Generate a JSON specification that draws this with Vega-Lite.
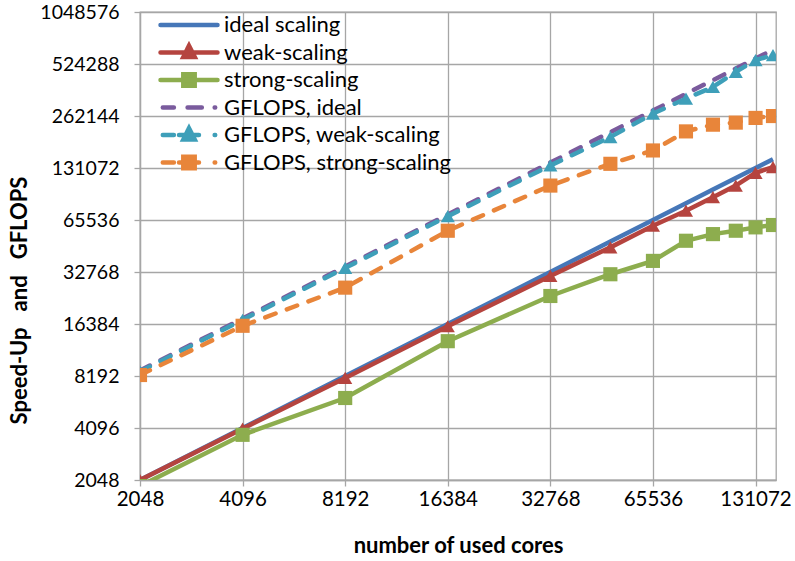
{
  "$schema": "https://vega.github.io/schema/vega-lite/v6.json",
  "width": 636,
  "height": 468,
  "autosize": {"type": "none"},
  "padding": {"left": 140, "top": 12, "right": 19, "bottom": 81},
  "background": "white",
  "config": {
    "view": {"stroke": "#a6a6a6", "strokeWidth": 1.3},
    "font": "Lato",
    "axis": {
      "labelFont": "Lato", "labelFontSize": 20.5, "labelColor": "#000000",
      "titleFont": "Lato", "titleFontSize": 22, "titleFontWeight": "bold", "titleColor": "#000000",
      "gridColor": "#a6a6a6", "gridWidth": 1.3, "gridOpacity": 1,
      "domainColor": "#a6a6a6", "domainWidth": 1.3,
      "tickColor": "#a6a6a6", "tickWidth": 1.3, "tickSize": 6
    }
  },
  "data": {"values": [
    {"cores": 2048, "value": 2048, "series": "ideal scaling"},
    {"cores": 4096, "value": 4096, "series": "ideal scaling"},
    {"cores": 8192, "value": 8192, "series": "ideal scaling"},
    {"cores": 16384, "value": 16384, "series": "ideal scaling"},
    {"cores": 32768, "value": 32768, "series": "ideal scaling"},
    {"cores": 49152, "value": 49152, "series": "ideal scaling"},
    {"cores": 65536, "value": 65536, "series": "ideal scaling"},
    {"cores": 81920, "value": 81920, "series": "ideal scaling"},
    {"cores": 98304, "value": 98304, "series": "ideal scaling"},
    {"cores": 114688, "value": 114688, "series": "ideal scaling"},
    {"cores": 131072, "value": 131072, "series": "ideal scaling"},
    {"cores": 147456, "value": 147456, "series": "ideal scaling"},

    {"cores": 2048, "value": 2048, "series": "weak-scaling"},
    {"cores": 4096, "value": 4060, "series": "weak-scaling"},
    {"cores": 8192, "value": 7980, "series": "weak-scaling"},
    {"cores": 16384, "value": 15900, "series": "weak-scaling"},
    {"cores": 32768, "value": 31100, "series": "weak-scaling"},
    {"cores": 49152, "value": 45500, "series": "weak-scaling"},
    {"cores": 65536, "value": 60700, "series": "weak-scaling"},
    {"cores": 81920, "value": 74200, "series": "weak-scaling"},
    {"cores": 98304, "value": 88800, "series": "weak-scaling"},
    {"cores": 114688, "value": 103700, "series": "weak-scaling"},
    {"cores": 131072, "value": 122900, "series": "weak-scaling"},
    {"cores": 147456, "value": 132700, "series": "weak-scaling"},

    {"cores": 2048, "value": 1890, "series": "strong-scaling"},
    {"cores": 4096, "value": 3740, "series": "strong-scaling"},
    {"cores": 8192, "value": 6110, "series": "strong-scaling"},
    {"cores": 16384, "value": 13030, "series": "strong-scaling"},
    {"cores": 32768, "value": 23800, "series": "strong-scaling"},
    {"cores": 49152, "value": 31800, "series": "strong-scaling"},
    {"cores": 65536, "value": 38000, "series": "strong-scaling"},
    {"cores": 81920, "value": 49700, "series": "strong-scaling"},
    {"cores": 98304, "value": 54300, "series": "strong-scaling"},
    {"cores": 114688, "value": 56800, "series": "strong-scaling"},
    {"cores": 131072, "value": 59400, "series": "strong-scaling"},
    {"cores": 147456, "value": 61300, "series": "strong-scaling"},

    {"cores": 2048, "value": 8806, "series": "GFLOPS, ideal"},
    {"cores": 4096, "value": 17613, "series": "GFLOPS, ideal"},
    {"cores": 8192, "value": 35226, "series": "GFLOPS, ideal"},
    {"cores": 16384, "value": 70451, "series": "GFLOPS, ideal"},
    {"cores": 32768, "value": 140902, "series": "GFLOPS, ideal"},
    {"cores": 49152, "value": 211354, "series": "GFLOPS, ideal"},
    {"cores": 65536, "value": 281805, "series": "GFLOPS, ideal"},
    {"cores": 81920, "value": 352256, "series": "GFLOPS, ideal"},
    {"cores": 98304, "value": 422707, "series": "GFLOPS, ideal"},
    {"cores": 114688, "value": 493158, "series": "GFLOPS, ideal"},
    {"cores": 131072, "value": 563610, "series": "GFLOPS, ideal"},
    {"cores": 147456, "value": 634061, "series": "GFLOPS, ideal"},

    {"cores": 2048, "value": 8700, "series": "GFLOPS, weak-scaling"},
    {"cores": 4096, "value": 17300, "series": "GFLOPS, weak-scaling"},
    {"cores": 8192, "value": 34600, "series": "GFLOPS, weak-scaling"},
    {"cores": 16384, "value": 68900, "series": "GFLOPS, weak-scaling"},
    {"cores": 32768, "value": 135600, "series": "GFLOPS, weak-scaling"},
    {"cores": 49152, "value": 198100, "series": "GFLOPS, weak-scaling"},
    {"cores": 65536, "value": 270400, "series": "GFLOPS, weak-scaling"},
    {"cores": 81920, "value": 330500, "series": "GFLOPS, weak-scaling"},
    {"cores": 98304, "value": 386000, "series": "GFLOPS, weak-scaling"},
    {"cores": 114688, "value": 472000, "series": "GFLOPS, weak-scaling"},
    {"cores": 131072, "value": 552000, "series": "GFLOPS, weak-scaling"},
    {"cores": 147456, "value": 590000, "series": "GFLOPS, weak-scaling"},

    {"cores": 2048, "value": 8300, "series": "GFLOPS, strong-scaling"},
    {"cores": 4096, "value": 16000, "series": "GFLOPS, strong-scaling"},
    {"cores": 8192, "value": 26600, "series": "GFLOPS, strong-scaling"},
    {"cores": 16384, "value": 56800, "series": "GFLOPS, strong-scaling"},
    {"cores": 32768, "value": 103700, "series": "GFLOPS, strong-scaling"},
    {"cores": 49152, "value": 138600, "series": "GFLOPS, strong-scaling"},
    {"cores": 65536, "value": 165600, "series": "GFLOPS, strong-scaling"},
    {"cores": 81920, "value": 213500, "series": "GFLOPS, strong-scaling"},
    {"cores": 98304, "value": 233500, "series": "GFLOPS, strong-scaling"},
    {"cores": 114688, "value": 240000, "series": "GFLOPS, strong-scaling"},
    {"cores": 131072, "value": 255500, "series": "GFLOPS, strong-scaling"},
    {"cores": 147456, "value": 262000, "series": "GFLOPS, strong-scaling"}
  ]},
  "encoding": {
    "x": {
      "field": "cores", "type": "quantitative",
      "scale": {"type": "log", "base": 2, "domain": [2048, 150500], "nice": false},
      "axis": {
        "values": [2048, 4096, 8192, 16384, 32768, 65536, 131072],
        "format": "d", "grid": true, "labelPadding": 3, "labelFlush": false,
        "title": "number of used cores", "titleY": 55, "titleBaseline": "top"
      }
    },
    "y": {
      "field": "value", "type": "quantitative",
      "scale": {"type": "log", "base": 2, "domain": [2048, 1048576], "nice": false},
      "axis": {
        "values": [2048, 4096, 8192, 16384, 32768, 65536, 131072, 262144, 524288, 1048576],
        "format": "d", "grid": true, "labelPadding": 15, "labelFontSize": 19.5, "labelFlush": false,
        "title": "Speed-Up\u00a0\u00a0\u00a0and\u00a0\u00a0\u00a0GFLOPS", "titleX": -109, "titleY": 288, "titleAngle": -90, "titleBaseline": "bottom"
      }
    },
    "color": {
      "field": "series", "type": "nominal",
      "scale": {
        "domain": ["ideal scaling", "weak-scaling", "strong-scaling", "GFLOPS, ideal", "GFLOPS, weak-scaling", "GFLOPS, strong-scaling"],
        "range": ["#4677b8", "#b5443f", "#8dad4e", "#7a5b9d", "#3e9fb9", "#e8853a"]
      },
      "legend": {
        "title": null,
        "orient": "none", "legendX": 18, "legendY": 1,
        "labelFont": "Lato", "labelFontSize": 22, "labelColor": "#000000", "labelLimit": 0,
        "symbolSize": 3249, "symbolStrokeWidth": 4.5, "clipHeight": 24, "rowPadding": 3.5,
        "labelOffset": 4,
        "encode": {
          "symbols": {
            "update": {
              "shape": {"signal": "datum.value == 'ideal scaling' ? 'M-1,0L1,0' : datum.value == 'weak-scaling' ? 'M-1,0L1,0M-0.2,0.16L0,-0.24L0.2,0.16Z' : datum.value == 'strong-scaling' ? 'M-1,0L1,0M-0.2,-0.2L0.2,-0.2L0.2,0.2L-0.2,0.2Z' : datum.value == 'GFLOPS, ideal' ? 'M-0.92,0L-0.53,0M-0.05,0L0.45,0M0.9,0L0.92,0' : datum.value == 'GFLOPS, weak-scaling' ? 'M-0.92,0L-0.53,0M-0.2,0.16L0,-0.24L0.2,0.16ZM-0.35,0L0.35,0M0.9,0L0.92,0' : 'M-0.92,0L-0.53,0M-0.2,-0.2L0.2,-0.2L0.2,0.2L-0.2,0.2ZM-0.35,0L0.35,0M0.9,0L0.92,0'"},
              "fill": {"scale": "color", "field": "value"},
              "stroke": {"scale": "color", "field": "value"},
              "strokeWidth": {"value": 4.5},
              "strokeCap": {"value": "round"},
              "strokeDash": {"value": [1, 0]},
              "opacity": {"value": 1}
            }
          }
        }
      }
    }
  },
  "layer": [
    {
      "transform": [{"filter": {"field": "series", "oneOf": ["ideal scaling", "weak-scaling", "strong-scaling"]}}],
      "mark": {"type": "line", "strokeWidth": 4.5, "clip": true, "strokeCap": "butt"}
    },
    {
      "transform": [{"filter": {"field": "series", "oneOf": ["GFLOPS, ideal", "GFLOPS, weak-scaling", "GFLOPS, strong-scaling"]}}],
      "mark": {"type": "line", "strokeWidth": 4.5, "clip": true, "strokeDash": [11, 12], "strokeCap": "round"}
    },
    {
      "transform": [{"filter": {"field": "series", "oneOf": ["weak-scaling", "strong-scaling", "GFLOPS, weak-scaling", "GFLOPS, strong-scaling"]}}],
      "mark": {"type": "point", "filled": true, "opacity": 1, "clip": true},
      "encoding": {
        "shape": {
          "field": "series", "type": "nominal",
          "scale": {
            "domain": ["weak-scaling", "strong-scaling", "GFLOPS, weak-scaling", "GFLOPS, strong-scaling"],
            "range": ["triangle-up", "square", "triangle-up", "square"]
          },
          "legend": null
        },
        "size": {"value": 200}
      }
    }
  ]
}
